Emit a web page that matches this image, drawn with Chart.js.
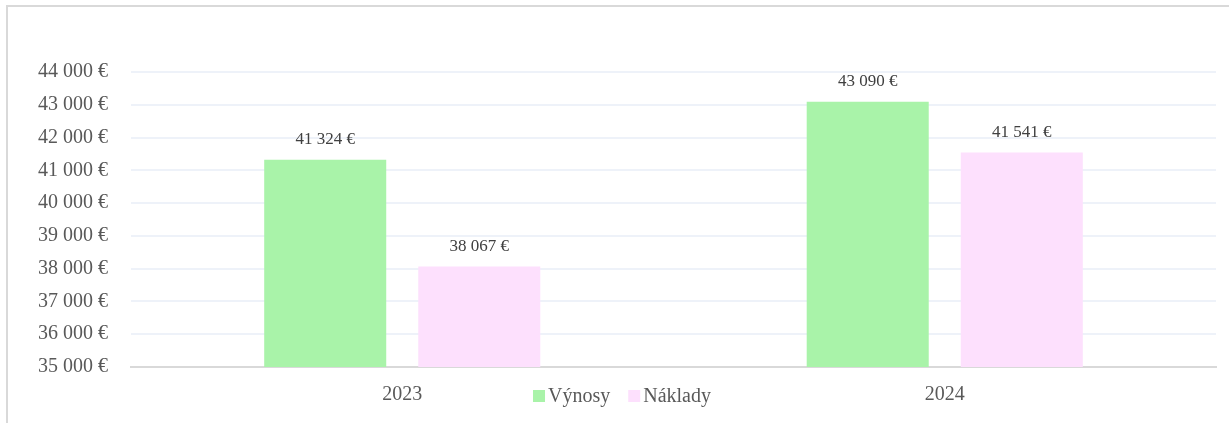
<!DOCTYPE html>
<html>
<head>
<meta charset="utf-8">
<script src="https://cdn.jsdelivr.net/npm/chart.js@4"></script>
<style>
  html, body { margin: 0; padding: 0; background: #fff; }
  canvas { display: block; }
</style>
</head>
<body>
<canvas id="grafico" width="1229" height="423"></canvas>
<script>
// ====== DADOS ======
const roky = ['2023', '2024'];
const vynosy = [41324, 43090];
const naklady = [38067, 41541];
const nazvySerii = ['Výnosy', 'Náklady'];
const barvy = ['#a9f3a9', '#fde0fd'];

// ====== FORMAT ======
function formatEur(v) {
  return String(v).replace(/\B(?=(\d{3})+(?!\d))/g, ' ') + ' €';
}

const fontSerif = '"Liberation Serif", "Times New Roman", serif';

// ====== PLUGINS ======
const ramecek = {
  id: 'ramecek',
  beforeDraw(chart) {
    const c = chart.ctx;
    c.save();
    c.strokeStyle = '#d9d9d9';
    c.lineWidth = 2;
    c.beginPath();
    c.moveTo(7, chart.height);
    c.lineTo(7, 6);
    c.lineTo(chart.width, 6);
    c.stroke();
    c.restore();
  }
};

const popisky = {
  id: 'popisky',
  afterDatasetsDraw(chart) {
    const c = chart.ctx;
    c.save();
    c.font = '17px ' + fontSerif;
    c.fillStyle = '#404040';
    c.textAlign = 'center';
    c.textBaseline = 'middle';
    chart.data.datasets.forEach((ds, i) => {
      chart.getDatasetMeta(i).data.forEach((bar, j) => {
        c.fillText(formatEur(ds.data[j]), bar.x, bar.y - 20);
      });
    });
    c.restore();
  }
};

const legenda = {
  id: 'legenda',
  afterDraw(chart) {
    const c = chart.ctx;
    c.save();
    c.font = '20px ' + fontSerif;
    c.textBaseline = 'alphabetic';
    const box = 12, gap = 3, mezera = 18;
    const sirky = nazvySerii.map(t => c.measureText(t).width);
    const celkem = sirky.reduce((a, w) => a + box + gap + w, 0) + mezera * (nazvySerii.length - 1);
    let x = 622 - celkem / 2;
    nazvySerii.forEach((t, i) => {
      c.fillStyle = barvy[i];
      c.fillRect(x, 390, box, box);
      x += box + gap;
      c.fillStyle = '#595959';
      c.fillText(t, x, 402);
      x += sirky[i] + mezera;
    });
    c.restore();
  }
};

// ====== GRAF ======
new Chart(document.getElementById('grafico').getContext('2d'), {
  type: 'bar',
  data: {
    labels: roky,
    datasets: [
      { label: nazvySerii[0], data: vynosy, backgroundColor: barvy[0] },
      { label: nazvySerii[1], data: naklady, backgroundColor: barvy[1] }
    ]
  },
  options: {
    responsive: false,
    animation: false,
    devicePixelRatio: 1,
    categoryPercentage: 0.568,
    barPercentage: 0.792,
    layout: { padding: { top: 72, right: 13, left: 0, bottom: 0 } },
    plugins: {
      legend: { display: false },
      tooltip: { enabled: false }
    },
    scales: {
      x: {
        grid: { display: false },
        border: { color: '#d9d9d9', width: 2 },
        ticks: { color: '#595959', font: { family: fontSerif, size: 20 }, padding: 8 },
        afterFit: s => { s.height = 56; }
      },
      y: {
        min: 35000,
        max: 44000,
        ticks: {
          stepSize: 1000,
          color: '#595959',
          font: { family: fontSerif, size: 20 },
          padding: 23,
          callback: v => formatEur(v)
        },
        grid: { color: '#eef2f9', lineWidth: 2, drawTicks: false },
        border: { display: false },
        afterFit: s => { s.width = 131; }
      }
    }
  },
  plugins: [ramecek, popisky, legenda]
});
</script>
</body>
</html>
